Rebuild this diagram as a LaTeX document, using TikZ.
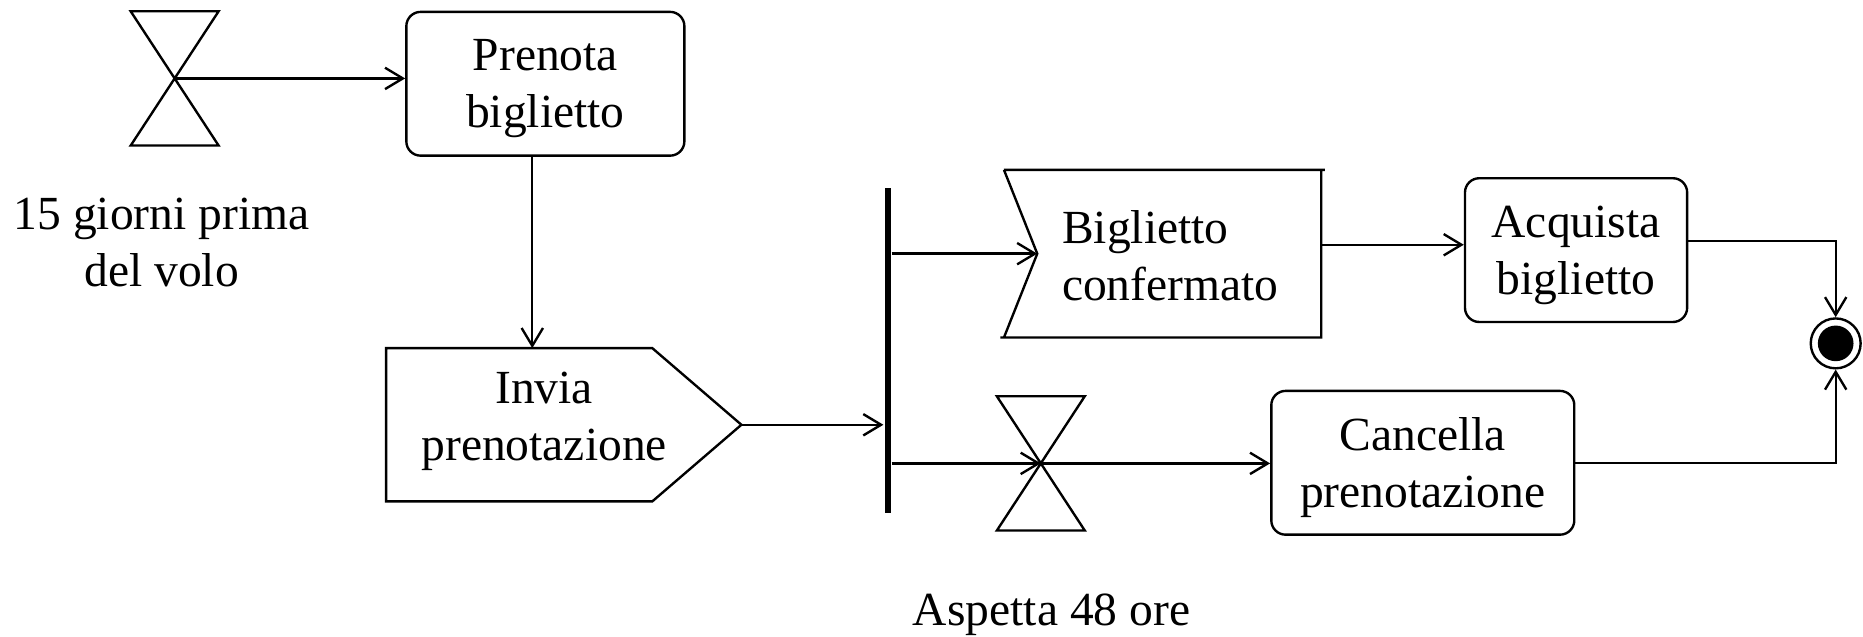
\documentclass[tikz,border=0pt]{standalone}
\usepackage{fontspec}
\setmainfont{Liberation Serif}
\usetikzlibrary{arrows.meta}

\tikzset{
  activity/.style={
    draw,
    rounded corners=6pt,
    align=center,
    minimum height=60.5pt,
    inner sep=0pt,
    text depth=-3pt,
  },
  label text/.style={
    align=center,
  },
  flow/.style={
    -{Straight Barb[length=7.5pt,width=9pt]},
  },
  hourglass/.pic={
    \draw (-37,-56.5) -- (37,-56.5) -- (-37,56.5) -- (37,56.5) -- cycle;
    \coordinate (-c) at (0,0);
  },
}

\begin{document}
\begin{tikzpicture}[x=0.5pt, y=-0.5pt, line width=1pt,
    font=\fontsize{20}{24}\selectfont]

  \useasboundingbox (0,0) rectangle (1568,536);

  % timers
  \pic (wait15) at (147,66) {hourglass};
  \pic (wait48) at (876,390) {hourglass};
  \node (giorni) [label text] at (136,204) {15 giorni prima\\del volo};
  \node (ore) at (885,517) {Aspetta 48 ore};

  % actions
  \node (prenota) [activity, minimum width=117pt] at (459,70.5) {Prenota\\biglietto};
  \node (acquista) [activity, minimum width=93.5pt] at (1326.5,210.5) {Acquista\\biglietto};
  \node (cancella) [activity, minimum width=127.5pt] at (1197.5,389.5) {Cancella\\prenotazione};

  % send / receive
  \node (invia) [label text] at (458,355) {Invia\\prenotazione};
  \draw (325,293) -- (549,293) -- (624,357.5) coordinate (invia tip)
    -- (549,422) -- (325,422) -- cycle;
  \coordinate (invia top) at (448,293);

  \node (conferma) [align=left] at (985,215) {Biglietto\\confermato};
  \draw (845,143) -- (1115,143) (1112,143) -- (1112,284) -- (842,284)
    (845,284) -- (873,213.5) coordinate (conferma notch) -- (845,143);
  \coordinate (conferma out) at (1112,206);

  % fork and end
  \node (fork) [fill, minimum width=2.5pt, minimum height=137pt, inner sep=0pt] at (747,295) {};
  \node (fine) [circle, draw, minimum size=21pt, inner sep=0pt,
    path picture={\fill (path picture bounding box.center) circle (7.5pt);}] at (1545,289) {};

  % flows
  \draw[flow] (wait15-c) -- (wait15-c -| prenota.west);
  \draw[flow] (prenota.south -| invia top) -- (invia top);
  \draw[flow] (invia tip) -- (invia tip -| fork.west);
  \draw[flow] (fork.east |- conferma notch) -- (conferma notch);
  \draw[flow] (fork.east |- wait48-c) -- (wait48-c);
  \draw[flow] (wait48-c) -- (wait48-c -| cancella.west);
  \draw[flow] (conferma out) -- (conferma out -| acquista.west);
  \draw[flow] ([yshift=3.75pt]acquista.east) -| (fine.north);
  \draw[flow] (cancella.east) -| (fine.south);

\end{tikzpicture}
\end{document}
